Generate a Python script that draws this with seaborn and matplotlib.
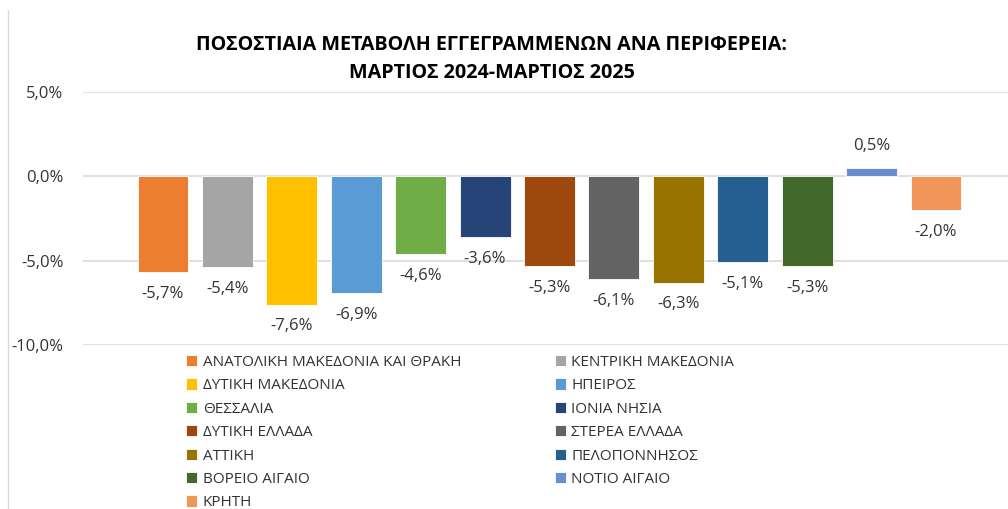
import matplotlib
matplotlib.use("Agg")
import matplotlib.pyplot as plt
from matplotlib.lines import Line2D
import seaborn as sns
import pandas as pd

# regions (one series each in the original Excel chart)
regions = [
    "ΑΝΑΤΟΛΙΚΗ ΜΑΚΕΔΟΝΙΑ ΚΑΙ ΘΡΑΚΗ", "ΚΕΝΤΡΙΚΗ ΜΑΚΕΔΟΝΙΑ", "ΔΥΤΙΚΗ ΜΑΚΕΔΟΝΙΑ",
    "ΗΠΕΙΡΟΣ", "ΘΕΣΣΑΛΙΑ", "ΙΟΝΙΑ ΝΗΣΙΑ", "ΔΥΤΙΚΗ ΕΛΛΑΔΑ", "ΣΤΕΡΕΑ ΕΛΛΑΔΑ",
    "ΑΤΤΙΚΗ", "ΠΕΛΟΠΟΝΝΗΣΟΣ", "ΒΟΡΕΙΟ ΑΙΓΑΙΟ", "ΝΟΤΙΟ ΑΙΓΑΙΟ", "ΚΡΗΤΗ",
]
# % change March 2024 - March 2025
changes = [-5.7, -5.4, -7.6, -6.9, -4.6, -3.6, -5.3, -6.1, -6.3, -5.1, -5.3, 0.5, -2.0]
colors = [
    "#ED7D31", "#A5A5A5", "#FFC000", "#5B9BD5", "#70AD47", "#264478", "#9E480E",
    "#636363", "#997300", "#255E91", "#43682B", "#698ED0", "#F1975A",
]
yticks = [-10, -5, 0, 5]
title = "ΠΟΣΟΣΤΙΑΙΑ ΜΕΤΑΒΟΛΗ ΕΓΓΕΓΡΑΜΜΕΝΩΝ ΑΝΑ ΠΕΡΙΦΕΡΕΙΑ:\nΜΑΡΤΙΟΣ 2024-ΜΑΡΤΙΟΣ 2025"

sns.set_theme(style="white")
plt.rcParams['font.family'] = ['Open Sans', 'DejaVu Sans']

df = pd.DataFrame({'region': regions, 'change': changes})

W, H = 1008, 509
fig = plt.figure(figsize=(W / 100, H / 100), dpi=100)
ax = fig.add_axes([83 / W, 1 - 345 / H, 1 - 83 / W, (345 - 92) / H])

sns.barplot(data=df, x='region', y='change', hue='region', palette=colors,
            saturation=1, width=0.79, errorbar=None, legend=True, ax=ax,
            edgecolor='white', linewidth=0.6)

# value labels
fmt = lambda v: f"{v:.1f}%".replace('.', ',')
for cont, v in zip(ax.containers, changes):
    ax.bar_label(cont, labels=[fmt(v)], padding=10, fontsize=12, color='#333333')

ax.set_ylim(-10, 5)
ax.set_xlim(-1.242, 13.118)
ax.set_yticks(yticks)
ax.set_yticklabels([fmt(t) for t in yticks])
ax.set_xticks([])
ax.set_xlabel('')
ax.set_ylabel('')
ax.yaxis.grid(True, color='#D9D9D9', linewidth=1.2)
ax.set_axisbelow(True)
for s in ax.spines.values():
    s.set_visible(False)
ax.tick_params(axis='y', length=0, pad=14, labelsize=12, labelcolor='#333333')

# legend, row-major like Excel
handles, labels = ax.get_legend_handles_labels()
ax.get_legend().remove()
order = list(range(0, 13, 2)) + list(range(1, 13, 2))
fig.legend([handles[i] for i in order], [labels[i] for i in order], ncol=2,
           loc='upper left', bbox_to_anchor=(186 / W, 1 - 355 / H), frameon=False,
           handlelength=0.75, handleheight=0.75, handletextpad=0.35,
           columnspacing=6.1, labelspacing=0.55, fontsize=11,
           labelcolor='#333333', borderaxespad=0, borderpad=0)

fig.text(492 / W, 1 - 59 / H, title, ha='center', va='center', fontsize=14.2,
         fontweight='bold', color='black', linespacing=1.5)

# chart area border on the left
fig.add_artist(Line2D([8 / W, 8 / W], [0, 1 - 10 / H], transform=fig.transFigure,
                      color='#D9D9D9', linewidth=1))

fig.savefig('out.png', dpi=100)
